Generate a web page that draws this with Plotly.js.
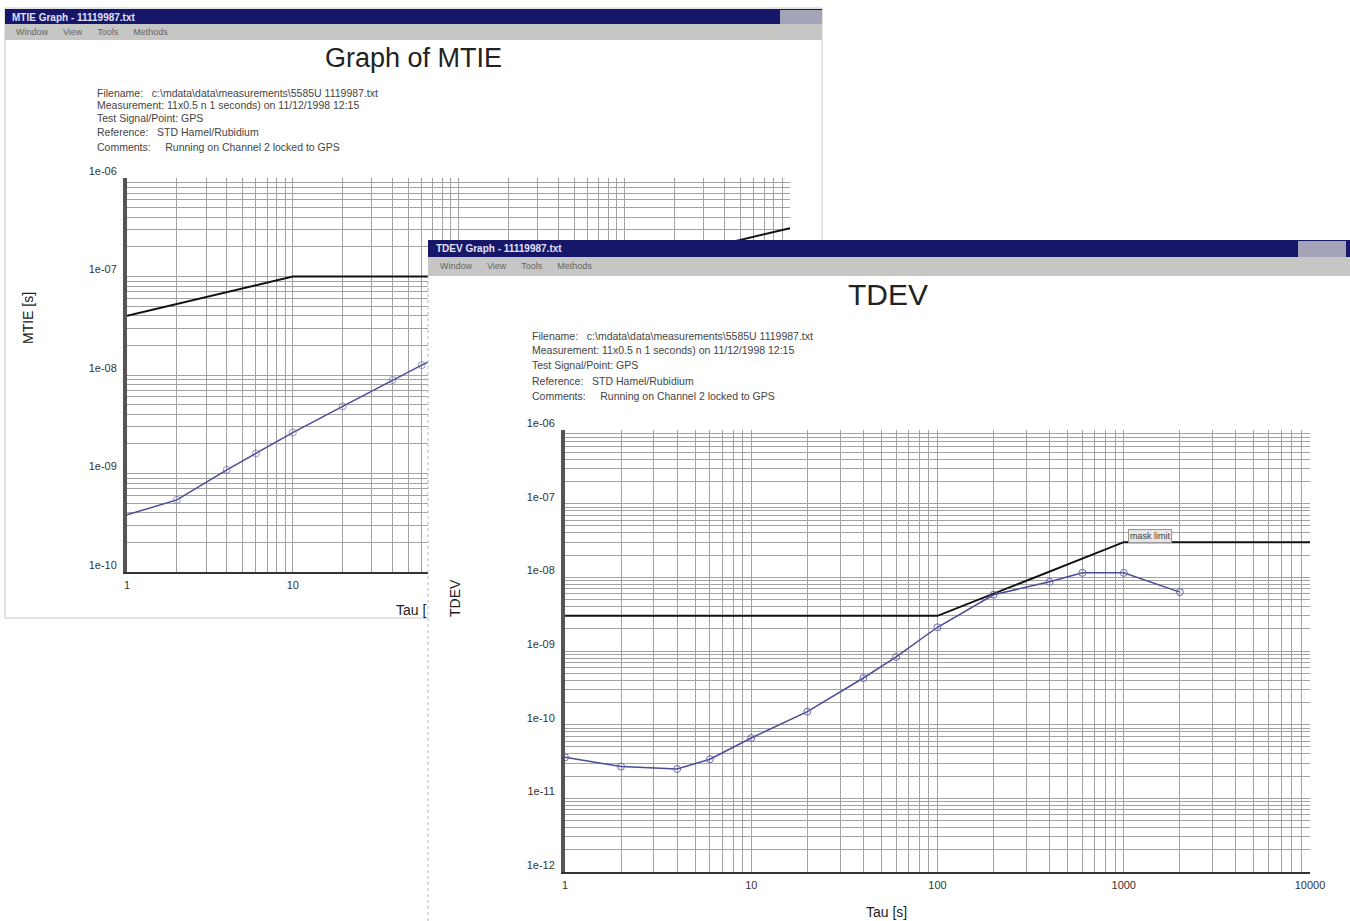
<!DOCTYPE html>
<html>
<head>
<meta charset="utf-8">
<script src="https://cdn.plot.ly/plotly-3.0.1.min.js"></script>
<style>html,body{margin:0;padding:0;background:#fff;}#chart{width:1350px;height:921px;}</style>
</head>
<body>
<div id="chart"></div>
<script>
// ---------- data ----------
const tauDecades = [1, 10, 100, 1000, 10000];
const tauLabels = ['1', '10', '100', '1000', '10000'];

const mtieDecades = [1e-10, 1e-9, 1e-8, 1e-7, 1e-6];
const mtieLabels = ['1e-10', '1e-09', '1e-08', '1e-07', '1e-06'];

const tdevDecades = [1e-12, 1e-11, 1e-10, 1e-9, 1e-8, 1e-7, 1e-6];
const tdevLabels = ['1e-12', '1e-11', '1e-10', '1e-09', '1e-08', '1e-07', '1e-06'];

// MTIE measurement (blue) and mask (black)
const mtieTau = [1, 2, 4, 6, 10, 20, 40, 60, 100];
const mtieValue = [3.8e-10, 5.4e-10, 1.09e-9, 1.6e-9, 2.6e-9, 4.8e-9, 8.9e-9, 1.26e-8, 1.9e-8];
const mtieMaskTau = [1, 10, 600, 10000];
const mtieMaskValue = [4e-8, 1e-7, 1e-7, 3.1e-7];

// TDEV measurement (blue) and mask (black)
const tdevTau = [1, 2, 4, 6, 10, 20, 40, 60, 100, 200, 400, 600, 1000, 2000];
const tdevValue = [3.6e-11, 2.7e-11, 2.5e-11, 3.4e-11, 6.6e-11, 1.5e-10, 4.3e-10, 8.3e-10, 2.1e-9, 5.8e-9, 8.7e-9, 1.15e-8, 1.15e-8, 6.3e-9];
const tdevMaskTau = [1, 100, 1000, 10000];
const tdevMaskValue = [3e-9, 3e-9, 3e-8, 3e-8];

const mtieInfo = [
  'Filename:   c:\\mdata\\data\\measurements\\5585U 1119987.txt',
  'Measurement: 11x0.5 n 1 seconds) on 11/12/1998 12:15',
  'Test Signal/Point: GPS',
  'Reference:   STD Hamel/Rubidium',
  'Comments:     Running on Channel 2 locked to GPS'
];
const tdevInfo = mtieInfo;

// ---------- helpers ----------
const W = 1350, H = 921;
const px = v => v / W;
const py = v => 1 - v / H;

function logGrid(decades, labels) {
  const vals = [], text = [];
  for (let i = 0; i < decades.length; i++) {
    const steps = (i === decades.length - 1) ? 1 : 9;
    for (let m = 1; m <= steps; m++) {
      vals.push(decades[i] * m);
      text.push(m === 1 ? labels[i] : '');
    }
  }
  return {vals, text};
}

const FONT = '"Liberation Sans Narrow", "Liberation Sans", Arial, sans-serif';
const GRID = '#a2a2a2';

const tauGrid = logGrid(tauDecades, tauLabels);
const mtieGrid = logGrid(mtieDecades, mtieLabels);
const tdevGrid = logGrid(tdevDecades, tdevLabels);

function xAxis(domain, anchor, grid) {
  return {
    type: 'log', range: [0, 4], domain: domain, anchor: anchor,
    tickmode: 'array', tickvals: grid.vals, ticktext: grid.text,
    showgrid: true, gridcolor: GRID, gridwidth: 1, zeroline: false,
    showline: true, linecolor: '#333', linewidth: 2, ticks: '',
    ticklabelstandoff: 2,
    tickfont: {family: FONT, size: 11, color: '#333'}, fixedrange: true
  };
}
function yAxis(domain, anchor, range, grid) {
  return {
    type: 'log', range: range, domain: domain, anchor: anchor,
    tickmode: 'array', tickvals: grid.vals, ticktext: grid.text,
    showgrid: true, gridcolor: GRID, gridwidth: 1, zeroline: false,
    showline: true, linecolor: '#555', linewidth: 4, ticks: '',
    ticklabelstandoff: 4, ticklabelshift: -7,
    tickfont: {family: FONT, size: 11, color: '#333'}, fixedrange: true
  };
}

const BLUE = '#4b4b98';

const traces = [
  // MTIE chart (back window)
  {x: mtieMaskTau, y: mtieMaskValue, xaxis: 'x', yaxis: 'y', mode: 'lines',
   line: {color: '#111', width: 2}, hoverinfo: 'skip'},
  {x: mtieTau, y: mtieValue, xaxis: 'x', yaxis: 'y', mode: 'lines+markers',
   line: {color: BLUE, width: 1.5},
   marker: {symbol: 'circle-open', size: [0, 7, 7, 7, 7, 7, 7, 7, 7], color: '#6a6aa8', line: {width: 1}},
   hoverinfo: 'skip'},
  // occluding front-window background
  {x: [], y: [], xaxis: 'x2', yaxis: 'y2', mode: 'markers', hoverinfo: 'skip'},
  // TDEV chart (front window)
  {x: tdevMaskTau, y: tdevMaskValue, xaxis: 'x3', yaxis: 'y3', mode: 'lines',
   line: {color: '#111', width: 2}, hoverinfo: 'skip'},
  {x: tdevTau, y: tdevValue, xaxis: 'x3', yaxis: 'y3', mode: 'lines+markers',
   line: {color: BLUE, width: 1.5},
   marker: {symbol: 'circle-open', size: 7, color: '#6a6aa8', line: {width: 1}},
   hoverinfo: 'skip'}
];

const shapes = [
  // MTIE window frame
  {type: 'rect', xref: 'paper', yref: 'paper', x0: px(5), x1: px(822), y0: py(618), y1: py(8),
   line: {color: '#c8c8c8', width: 1}, fillcolor: '#ffffff', layer: 'below'},
  {type: 'rect', xref: 'paper', yref: 'paper', x0: px(5), x1: px(822), y0: py(24), y1: py(9),
   line: {width: 0}, fillcolor: '#17176a', layer: 'below'},
  {type: 'rect', xref: 'paper', yref: 'paper', x0: px(5), x1: px(822), y0: py(40), y1: py(24),
   line: {width: 0}, fillcolor: '#c6c7c4', layer: 'below'},
  {type: 'rect', xref: 'paper', yref: 'paper', x0: px(780), x1: px(822), y0: py(24), y1: py(10),
   line: {width: 0}, fillcolor: '#a4a4b8', layer: 'below'},
  // TDEV window chrome (front)
  {type: 'rect', xref: 'paper', yref: 'paper', x0: px(428), x1: px(1350), y0: py(257), y1: py(240),
   line: {width: 0}, fillcolor: '#17176a', layer: 'above'},
  {type: 'rect', xref: 'paper', yref: 'paper', x0: px(428), x1: px(1350), y0: py(276), y1: py(257),
   line: {width: 0}, fillcolor: '#c6c7c4', layer: 'above'},
  {type: 'rect', xref: 'paper', yref: 'paper', x0: px(1298), x1: px(1346), y0: py(257), y1: py(241),
   line: {width: 0}, fillcolor: '#a4a4b8', layer: 'above'},
  {type: 'line', xref: 'paper', yref: 'paper', x0: px(428), x1: px(428), y0: py(921), y1: py(276),
   line: {color: '#b8b8b8', width: 1, dash: 'dot'}, layer: 'above'},
  // white bottom bands of the grids (log-axis coordinates)
  {type: 'rect', xref: 'x', yref: 'y', x0: 0, x1: 4, y0: -10, y1: -9.72,
   line: {width: 0}, fillcolor: '#ffffff', layer: 'between'},
  {type: 'rect', xref: 'x3', yref: 'y3', x0: 0, x1: 4, y0: -12, y1: -11.72,
   line: {width: 0}, fillcolor: '#ffffff', layer: 'between'}
];

const ann = [];
function addText(text, x, y, size, opts) {
  ann.push(Object.assign({
    text: text, xref: 'paper', yref: 'paper', x: px(x), y: py(y),
    showarrow: false, font: {family: FONT, size: size, color: '#222'},
    xanchor: 'center', yanchor: 'middle'
  }, opts || {}));
}
// window titles & menus
addText('<b>MTIE Graph - 11119987.txt</b>', 10, 17, 10, {xanchor: 'left', font: {family: FONT, size: 10, color: '#e0e0f8'}});
addText('Window      View      Tools      Methods', 14, 32, 9, {xanchor: 'left', font: {family: FONT, size: 9, color: '#666'}});
addText('<b>TDEV Graph - 11119987.txt</b>', 434, 248, 10, {xanchor: 'left', font: {family: FONT, size: 10, color: '#e0e0f8'}});
addText('Window      View      Tools      Methods', 438, 266, 9, {xanchor: 'left', font: {family: FONT, size: 9, color: '#666'}});
// chart titles
addText('Graph of MTIE', 413, 58, 27, {font: {family: FONT, size: 27, color: '#222'}});
addText('TDEV', 888, 295, 30, {font: {family: FONT, size: 30, color: '#222'}});
// info blocks
const mtieY = [93, 105, 118, 132, 147];
mtieInfo.forEach((t, i) => addText(t, 95, mtieY[i], 10.5, {xanchor: 'left', font: {family: FONT, size: 10.5, color: '#444'}}));
const tdevY = [336, 350, 365, 381, 396];
tdevInfo.forEach((t, i) => addText(t, 530, tdevY[i], 10.5, {xanchor: 'left', font: {family: FONT, size: 10.5, color: '#444'}}));
// axis titles
addText('MTIE [s]', 28, 318, 14, {textangle: -90});
addText('Tau [', 428, 610, 14, {xanchor: 'right'});
addText('TDEV', 455, 598, 14, {textangle: -90});
addText('Tau [s]', 886, 912, 14);
// mask label
addText('mask limit', 1150, 536, 9, {bgcolor: '#e6e6e6', bordercolor: '#999', borderwidth: 1, borderpad: 1, font: {family: FONT, size: 9, color: '#444'}});

const layout = {
  width: W, height: H,
  margin: {l: 0, r: 0, t: 0, b: 0},
  paper_bgcolor: '#ffffff', plot_bgcolor: '#ffffff',
  showlegend: false, hovermode: false,
  xaxis: xAxis([px(127), px(790)], 'y', tauGrid),
  yaxis: yAxis([py(572), py(178)], 'x', [-10, -6], mtieGrid),
  xaxis2: {domain: [px(428), 1], anchor: 'y2', range: [0, 1], showgrid: false, zeroline: false,
           showline: false, showticklabels: false, ticks: '', fixedrange: true},
  yaxis2: {domain: [0, py(240)], anchor: 'x2', range: [0, 1], showgrid: false, zeroline: false,
           showline: false, showticklabels: false, ticks: '', fixedrange: true},
  xaxis3: xAxis([px(565), px(1310)], 'y3', tauGrid),
  yaxis3: yAxis([py(872), py(430)], 'x3', [-12, -6], tdevGrid),
  shapes: shapes,
  annotations: ann
};

Plotly.newPlot('chart', traces, layout, {displayModeBar: false, staticPlot: true});
</script>
</body>
</html>
